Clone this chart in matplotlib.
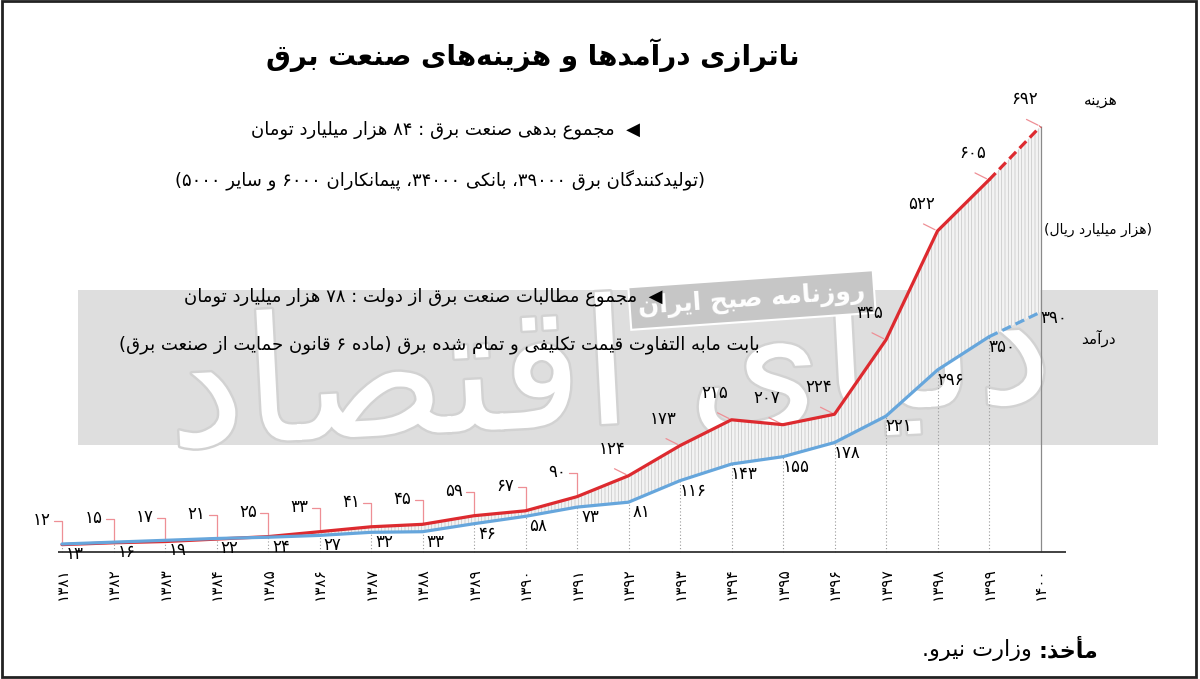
import matplotlib
matplotlib.use("Agg")
import matplotlib.pyplot as plt
import matplotlib.patheffects as pe
from matplotlib.patches import Rectangle

# values in thousand billion rials (هزار میلیارد ریال)
YEARS = list(range(1381, 1401))
COST = [12, 15, 17, 21, 25, 33, 41, 45, 59, 67, 90, 124, 173, 215, 207, 224, 345, 522, 605, 692]
REVENUE = [13, 16, 19, 22, 24, 27, 32, 33, 46, 58, 73, 81, 116, 143, 155, 178, 221, 296, 350, 390]

TITLE = "ناترازی درآمدها و هزینه‌های صنعت برق"
NOTE_DEBT = "◀  مجموع بدهی صنعت برق : ۸۴ هزار میلیارد تومان"
NOTE_DEBT_2 = "(تولیدکنندگان برق ۳۹۰۰۰، بانکی ۳۴۰۰۰، پیمانکاران ۶۰۰۰ و سایر ۵۰۰۰)"
NOTE_CLAIM = "◀  مجموع مطالبات صنعت برق از دولت : ۷۸ هزار میلیارد تومان"
NOTE_CLAIM_2 = "بابت مابه التفاوت قیمت تکلیفی و تمام شده برق (ماده ۶ قانون حمایت از صنعت برق)"
LBL_COST = "هزینه"
LBL_REV = "درآمد"
LBL_UNIT = "(هزار میلیارد ریال)"
SRC_HEAD = "مأخذ:"
SRC_TEXT = "وزارت نیرو."
WATERMARK = "دنیای اقتصاد"
WATERMARK_2 = "روزنامه صبح ایران"

C_RED = "#dd2a2f"
C_BLUE = "#66a6dc"
C_PINK = "#ee8f95"

# --- minimal Persian shaping + right-to-left ordering (matplotlib has none)
DUAL = {'ب': 0xFE8F, 'پ': 0xFB56, 'ت': 0xFE95, 'ث': 0xFE99, 'ج': 0xFE9D, 'چ': 0xFB7A,
        'ح': 0xFEA1, 'خ': 0xFEA5, 'س': 0xFEB1, 'ش': 0xFEB5, 'ص': 0xFEB9, 'ض': 0xFEBD,
        'ط': 0xFEC1, 'ظ': 0xFEC5, 'ع': 0xFEC9, 'غ': 0xFECD, 'ف': 0xFED1, 'ق': 0xFED5,
        'ک': 0xFB8E, 'گ': 0xFB92, 'ل': 0xFEDD, 'م': 0xFEE1, 'ن': 0xFEE5, 'ه': 0xFEE9,
        'ی': 0xFBFC}
RIGHT = {'ا': 0xFE8D, 'آ': 0xFE81, 'أ': 0xFE83, 'د': 0xFEA9, 'ذ': 0xFEAB, 'ر': 0xFEAD,
         'ز': 0xFEAF, 'ژ': 0xFB8A, 'و': 0xFEED}
LAM_ALEF = {'ا': 0xFEFB, 'آ': 0xFEF5, 'أ': 0xFEF7}
DIGITS = set("0123456789۰۱۲۳۴۵۶۷۸۹")
MIRROR = {"(": ")", ")": "("}


def shape(s):
    out, i, n = [], 0, len(s)
    while i < n:
        c = s[i]
        prev = i > 0 and s[i - 1] in DUAL
        if c == 'ل' and i + 1 < n and s[i + 1] in LAM_ALEF:
            out.append(chr(LAM_ALEF[s[i + 1]] + (1 if prev else 0)))
            i += 2
            continue
        if c in DUAL:
            nxt = i + 1 < n and (s[i + 1] in DUAL or s[i + 1] in RIGHT)
            k = 3 if (prev and nxt) else 1 if prev else 2 if nxt else 0
            out.append(chr(DUAL[c] + k))
        elif c in RIGHT:
            out.append(chr(RIGHT[c] + (1 if prev else 0)))
        elif c != "\u200c":
            out.append(c)
        i += 1
    return "".join(out)


def fa(s):
    runs = []
    for ch in shape(s):
        d = ch in DIGITS
        if runs and runs[-1][0] == d:
            runs[-1][1].append(ch)
        else:
            runs.append([d, [ch]])
    parts = []
    for d, chars in reversed(runs):
        if d:
            parts.append("".join(chars))
        else:
            parts.append("".join(MIRROR.get(c, c) for c in reversed(chars)))
    return "".join(parts)


def fnum(v):
    return str(v).translate(str.maketrans("0123456789", "۰۱۲۳۴۵۶۷۸۹"))


# --- layout: one axes over the whole figure, data mapped to the reference pixels
W, H = 1200, 679
X0_PX, STEP_PX = 62, 51.5
BASE_PX, UNIT_PX = 552, 0.615


def fx(px):
    return px / W


def fy(py):
    return 1 - py / H


plt.rcParams["font.family"] = ["DejaVu Sans"]
plt.rcParams["hatch.linewidth"] = 0.5
plt.rcParams["hatch.color"] = "#bdbdbd"

fig = plt.figure(figsize=(W / 100, H / 100), dpi=100)
ax = fig.add_axes([0, 0, 1, 1])
ax.set_xlim(YEARS[0] - X0_PX / STEP_PX, YEARS[0] + (W - X0_PX) / STEP_PX)
ax.set_ylim(-(H - BASE_PX) / UNIT_PX, BASE_PX / UNIT_PX)
ax.axis("off")

# watermark band and lettering
ax.add_patch(Rectangle((fx(78), fy(445)), fx(1158) - fx(78), fy(290) - fy(445),
                       transform=ax.transAxes, facecolor="#dedede", edgecolor="none", zorder=0))
ax.text(fx(610), fy(375), fa(WATERMARK), transform=ax.transAxes, ha="center", va="center",
        fontsize=125, color="white", rotation=3, zorder=0.5,
        path_effects=[pe.withStroke(linewidth=3.5, foreground="#d2d2d2")])
ax.text(fx(752), fy(300), fa(WATERMARK_2), transform=ax.transAxes, ha="center", va="center",
        fontsize=18, fontweight="bold", color="white", rotation=4, zorder=0.6,
        bbox=dict(boxstyle="square,pad=0.35", facecolor="#c6c6c6", edgecolor="white", linewidth=1.5))

# area between the curves
ax.fill_between(YEARS, REVENUE, COST, facecolor="#f3f3f3", edgecolor="#c4c4c4",
                hatch="|||||", linewidth=0, zorder=1)
ax.vlines(YEARS[:-1], 0, REVENUE[:-1], colors="#9a9a9a", linestyles=(0, (1, 2)),
          linewidth=0.8, zorder=1.5)
ax.vlines(YEARS[-1], 0, COST[-1], colors="#8a8a8a", linewidth=0.9, zorder=1.5)
ax.hlines(0, YEARS[0] - 0.08, YEARS[-1] + 0.5, colors="#333333", linewidth=1.3, zorder=2)

# lines, last segment dashed
ax.plot(YEARS[:-1], COST[:-1], color=C_RED, linewidth=2.3, zorder=4, solid_capstyle="round")
ax.plot(YEARS[-2:], COST[-2:], color=C_RED, linewidth=2.3, linestyle=(0, (3, 1.6)), zorder=4)
ax.plot(YEARS[:-1], REVENUE[:-1], color=C_BLUE, linewidth=2.3, zorder=4, solid_capstyle="round")
ax.plot(YEARS[-2:], REVENUE[-2:], color=C_BLUE, linewidth=2.3, linestyle=(0, (3, 1.6)), zorder=4)

# value labels
for yr, v in zip(YEARS, COST):
    if yr <= 1391:
        ax.annotate("", xy=(yr, v), xytext=(-8, 24), textcoords="offset pixels",
                    arrowprops=dict(arrowstyle="-", color=C_PINK, linewidth=0.9, shrinkA=0, shrinkB=0,
                                    connectionstyle="angle,angleA=0,angleB=90,rad=0"), zorder=3)
        ax.annotate(fnum(v), xy=(yr, v), xytext=(-11, 25), textcoords="offset pixels",
                    ha="right", va="center", fontsize=12, zorder=5)
    else:
        ax.annotate("", xy=(yr, v), xytext=(-14, 7), textcoords="offset pixels",
                    arrowprops=dict(arrowstyle="-", color=C_PINK, linewidth=0.9, shrinkA=0, shrinkB=2),
                    zorder=3)
        ax.annotate(fnum(v), xy=(yr, v), xytext=(-3, 27), textcoords="offset pixels",
                    ha="right", va="center", fontsize=12, zorder=5)

for yr, v in zip(YEARS, REVENUE):
    dx, dy = (13, -10) if yr < YEARS[-1] else (13, -6)
    ax.annotate(fnum(v), xy=(yr, v), xytext=(dx, dy), textcoords="offset pixels",
                ha="center", va="center", fontsize=12, zorder=5)

for yr in YEARS:
    ax.text(yr, fy(567), fnum(yr), transform=ax.get_xaxis_transform(), rotation=90,
            ha="center", va="top", fontsize=11)

# texts
ax.text(fx(533), fy(55), fa(TITLE), transform=ax.transAxes, ha="center", va="center",
        fontsize=20, fontweight="bold")
ax.text(fx(640), fy(130), fa(NOTE_DEBT), transform=ax.transAxes, ha="right", va="center", fontsize=13)
ax.text(fx(705), fy(180), fa(NOTE_DEBT_2), transform=ax.transAxes, ha="right", va="center", fontsize=13)
ax.text(fx(662), fy(297), fa(NOTE_CLAIM), transform=ax.transAxes, ha="right", va="center",
        fontsize=13, zorder=6)
ax.text(fx(760), fy(345), fa(NOTE_CLAIM_2), transform=ax.transAxes, ha="right", va="center",
        fontsize=13, zorder=6)
ax.text(fx(1118), fy(100), fa(LBL_COST), transform=ax.transAxes, ha="right", va="center", fontsize=11)
ax.text(fx(1152), fy(230), fa(LBL_UNIT), transform=ax.transAxes, ha="right", va="center", fontsize=10)
ax.text(fx(1116), fy(338), fa(LBL_REV), transform=ax.transAxes, ha="right", va="center", fontsize=11)

src = ax.text(fx(1098), fy(650), fa(SRC_HEAD), transform=ax.transAxes, ha="right", va="center",
              fontsize=16, fontweight="bold")
ax.annotate(fa(SRC_TEXT), xy=(0, 0.5), xycoords=src, xytext=(-6, 0), textcoords="offset pixels",
            ha="right", va="center", fontsize=16)

fig.patches.append(Rectangle((0.002, 0.003), 0.995, 0.995, transform=fig.transFigure,
                             fill=False, edgecolor="#222222", linewidth=2))

fig.savefig("out.png", dpi=100)
